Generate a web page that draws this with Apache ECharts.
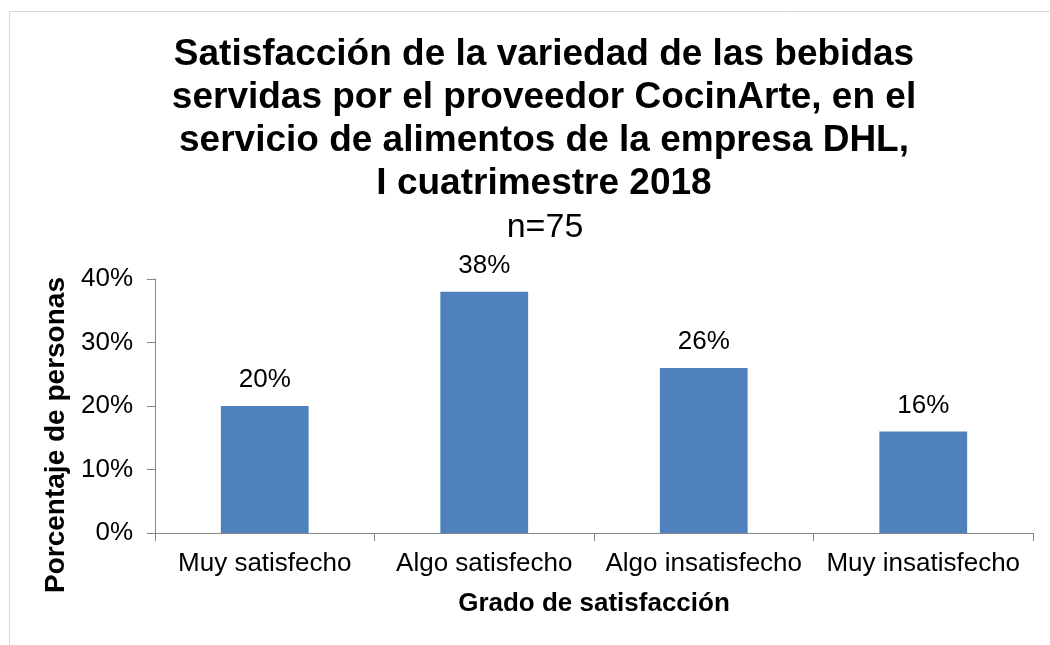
<!DOCTYPE html>
<html><head><meta charset="utf-8">
<script src="https://cdn.jsdelivr.net/npm/echarts@6/dist/echarts.min.js"></script>
<style>html,body{margin:0;padding:0;background:#fff}#c{width:1050px;height:645px}</style>
</head><body><div id="c"></div>
<script>
const categories = ['Muy satisfecho', 'Algo satisfecho', 'Algo insatisfecho', 'Muy insatisfecho'];
const values = [20, 38, 26, 16];
const yTicks = [0, 10, 20, 30, 40];

const chart = echarts.init(document.getElementById('c'), null, {renderer: 'canvas'});
const F = '"Liberation Sans", Arial, sans-serif';
chart.setOption({
  animation: false,
  backgroundColor: '#fff',
  graphic: [{
    type: 'rect', shape: {x: 9.5, y: 11.5, width: 1100, height: 700},
    style: {fill: 'none', stroke: '#d9d9d9', lineWidth: 1}, silent: true
  }],
  title: [{
    text: 'Satisfacción de la variedad de las bebidas\nservidas por el proveedor CocinArte, en el\nservicio de alimentos de la empresa DHL,\nI cuatrimestre 2018',
    left: 539, top: 28, textAlign: 'center',
    textStyle: {fontFamily: F, fontWeight: 'bold', fontSize: 37, lineHeight: 43, color: '#000'}
  }, {
    text: 'n=75', left: 540, top: 206, textAlign: 'center',
    textStyle: {fontFamily: F, fontWeight: 'normal', fontSize: 34, color: '#000'}
  }],
  grid: {left: 155, right: 17, top: 279, bottom: 112, containLabel: false},
  xAxis: {
    type: 'category', data: categories,
    axisLine: {lineStyle: {color: '#868686', width: 1}},
    axisTick: {show: true, length: 8, lineStyle: {color: '#868686'}},
    axisLabel: {fontFamily: F, fontSize: 26, color: '#000', margin: 18, interval: 0},
    name: 'Grado de satisfacción', nameLocation: 'middle', nameGap: 58,
    nameTextStyle: {fontFamily: F, fontWeight: 'bold', fontSize: 26, color: '#000'}
  },
  yAxis: {
    type: 'value', min: 0, max: 40, interval: 10,
    axisLine: {show: true, lineStyle: {color: '#868686', width: 1}},
    axisTick: {show: true, length: 8, lineStyle: {color: '#868686'}},
    splitLine: {show: false},
    axisLabel: {fontFamily: F, fontSize: 26, color: '#000', margin: 22, formatter: v => yTicks.includes(v) ? v + '%' : ''},
    name: 'Porcentaje de personas', nameLocation: 'middle', nameGap: 83,
    nameTextStyle: {fontFamily: F, fontWeight: 'bold', fontSize: 28, color: '#000', padding: [0, 58, 0, 0]}
  },
  series: [{
    type: 'bar', data: values, barWidth: '40%',
    itemStyle: {color: '#4F81BD'},
    label: {show: true, position: 'top', distance: 13, formatter: p => p.value + '%', fontFamily: F, fontSize: 26, color: '#000'}
  }]
});
</script></body></html>
